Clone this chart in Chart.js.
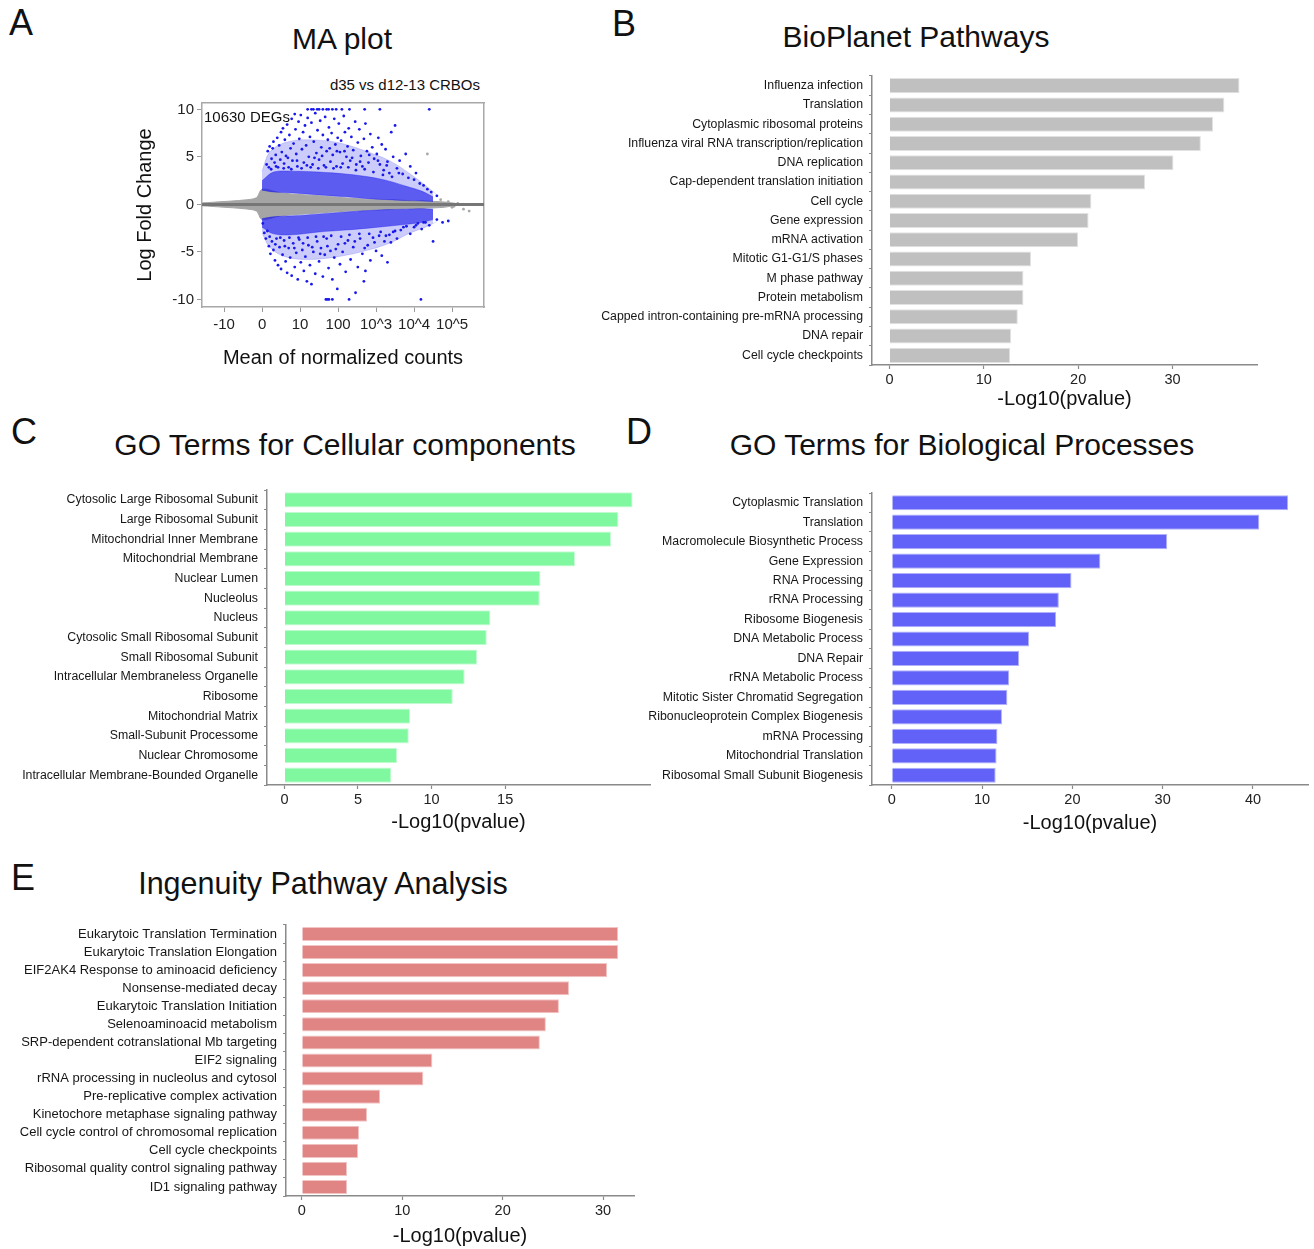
<!DOCTYPE html>
<html><head><meta charset="utf-8">
<script src="https://cdn.jsdelivr.net/npm/chart.js@4.4.1/dist/chart.umd.min.js"></script>
<style>
html,body{margin:0;padding:0;background:#fff;}
#fig{position:relative;width:1314px;height:1249px;overflow:hidden;font-family:"Liberation Sans",Arial,sans-serif;color:#111;}
canvas{position:absolute;}
.t{position:absolute;white-space:nowrap;}
.letter{font-size:36px;line-height:36px;}
.title{font-size:30px;line-height:30px;text-align:center;}
</style></head><body>
<div id="fig">
<canvas id="cA" width="367" height="275" style="left:133px;top:95px"></canvas>
<canvas id="cB" width="724" height="341" style="left:590px;top:70px"></canvas>
<canvas id="cC" width="660" height="354" style="left:0px;top:480px"></canvas>
<canvas id="cD" width="674" height="352" style="left:640px;top:483px"></canvas>
<canvas id="cE" width="660" height="333" style="left:0px;top:915px"></canvas>

<div class="t letter" style="left:9px;top:5px">A</div>
<div class="t letter" style="left:612px;top:6px">B</div>
<div class="t letter" style="left:11px;top:414px">C</div>
<div class="t letter" style="left:626px;top:414px">D</div>
<div class="t letter" style="left:11px;top:860px">E</div>

<div class="t title" style="left:242px;width:200px;top:24px">MA plot</div>
<div class="t title" style="left:716px;width:400px;top:22px">BioPlanet Pathways</div>
<div class="t title" style="left:95px;width:500px;top:430px">GO Terms for Cellular components</div>
<div class="t title" style="left:712px;width:500px;top:430px">GO Terms for Biological Processes</div>
<div class="t title" style="left:123px;width:400px;top:868px;font-size:30.5px">Ingenuity Pathway Analysis</div>

<div class="t" style="right:834px;top:77px;font-size:15px;line-height:15px;">d35 vs d12-13 CRBOs</div>
<div class="t" style="left:204px;top:109px;font-size:15px;line-height:15px;">10630 DEGs</div>
</div>
<script>
const F = '"Liberation Sans", Arial, sans-serif';

// ---------- Panel A : MA plot ----------
const maXTickLabels = ['-10','0','10','100','10^3','10^4','10^5'];
const maYTicks = [-10,-5,0,5,10];
const maGreyBandX     = [-0.58, 0, 0.5, 0.85, 1.0, 1.5, 2.5, 3.5, 4.5, 5.3, 5.8, 6.1];
const maGreyBandUpper = [0.15, 0.3, 0.45, 0.7, 1.6, 1.2, 0.9, 0.6, 0.45, 0.35, 0.25, 0.1];
const maGreyBandLower = [-0.15, -0.3, -0.45, -0.7, -1.6, -1.2, -0.9, -0.65, -0.5, -0.4, -0.3, -0.1];
const maCoreX        = [1.0, 1.3, 1.8, 2.5, 3.2, 3.8, 4.3, 4.8, 5.2, 5.5];
const maUpCoreTop    = [2.5, 3.4, 3.5, 3.4, 3.2, 2.9, 2.5, 1.9, 1.4, 0.8];
const maUpCoreBottom = [1.5, 1.3, 1.2, 1.0, 0.8, 0.6, 0.5, 0.4, 0.35, 0.3];
const maLoCoreTop    = [-1.5, -1.3, -1.2, -1.0, -0.8, -0.65, -0.55, -0.5, -0.45, -0.5];
const maLoCoreBottom = [-2.4, -3.1, -3.2, -2.9, -2.7, -2.5, -2.3, -2.1, -1.9, -1.6];
const maOuterX       = [1.0, 1.2, 1.6, 2.2, 3.0, 3.8, 4.4, 4.9, 5.3, 5.6];
const maUpOuterTop   = [3.5, 5.5, 6.5, 6.8, 6.5, 5.5, 4.5, 3.2, 2.0, 1.0];
const maLoOuterBottom= [-3.0, -4.5, -5.5, -5.8, -5.5, -4.8, -4.0, -3.0, -2.4, -1.8];
const maBluePoints = [
 [2.2,10],[2.3,10],[2.35,10],[2.45,10],[2.5,10],[2.6,10],[2.7,10],[2.75,10],[2.85,10],[2.95,10],[3.1,10],[3.3,10],[3.7,10],[4.1,10],[5.4,10],
 [1.12,4.2],[1.15,5.6],[1.18,3.9],[1.2,6.1],[1.25,4.8],[1.28,5.9],[1.3,6.6],[1.33,4.4],[1.36,5.2],[1.4,7.0],[1.42,3.9],[1.45,6.2],[1.48,4.7],[1.5,7.6],[1.52,5.5],
 [1.55,8.0],[1.58,4.3],[1.6,6.8],[1.63,5.1],[1.66,8.4],[1.7,3.9],[1.72,7.3],[1.75,5.9],[1.78,9.0],[1.8,4.6],[1.83,6.4],[1.86,9.5],[1.88,7.9],[1.9,5.3],[1.93,4.0],[1.96,8.7],[1.98,6.9],
 [2.02,9.4],[2.05,5.8],[2.08,7.6],[2.1,4.4],[2.13,8.3],[2.16,6.2],[2.2,9.1],[2.23,5.0],[2.26,7.1],[2.3,8.6],[2.33,4.2],[2.36,6.6],[2.4,9.6],[2.43,5.4],[2.46,7.8],[2.5,4.7],
 [2.53,8.8],[2.56,6.0],[2.6,7.3],[2.63,4.1],[2.66,9.2],[2.7,5.6],[2.73,6.8],[2.76,8.1],[2.8,4.5],[2.83,7.5],[2.86,5.2],[2.9,9.0],[2.93,6.3],[2.96,4.0],[2.99,7.0],
 [3.02,8.5],[3.05,5.5],[3.08,6.7],[3.12,4.3],[3.15,9.3],[3.18,7.6],[3.22,5.0],[3.25,6.1],[3.28,8.0],[3.32,4.6],[3.35,7.1],[3.4,5.7],[3.45,8.7],[3.48,4.2],
 [3.52,6.5],[3.56,7.9],[3.6,5.1],[3.64,4.0],[3.68,6.9],[3.72,8.5],[3.76,5.6],[3.8,4.4],[3.85,7.4],[3.9,6.0],[3.95,4.8],
 [4.02,5.3],[4.06,7.0],[4.1,4.2],[4.15,6.3],[4.2,3.6],[4.25,5.8],[4.3,4.5],[4.35,3.3],[4.4,7.6],[4.45,5.0],[4.5,8.3],[4.55,3.8],
 [4.62,4.6],[4.7,3.2],[4.78,5.3],[4.85,2.8],[4.9,4.0],[5.0,2.6],[5.05,3.3],[5.15,2.2],[5.25,2.0],[5.35,1.6],[5.45,1.3],[5.6,0.9],
 [1.24,3.7],[1.37,4.0],[1.57,3.8],[1.68,4.9],[1.77,3.7],[1.92,4.6],[2.04,3.8],[2.18,4.1],[2.28,3.9],[2.38,4.9],[2.48,3.8],[2.58,5.1],[2.68,3.9],[2.78,5.9],[2.88,3.8],
 [2.97,5.6],[3.07,3.9],[3.17,5.6],[3.27,3.9],[3.37,4.9],[3.47,3.6],[3.58,4.5],[3.7,3.7],[3.82,5.2],[3.93,3.4],[4.05,4.6],[4.18,3.1],[4.28,4.1],[4.42,2.9],[4.6,3.3],
 [1.02,-2.0],[1.06,-3.0],[1.1,-3.6],[1.14,-2.8],[1.18,-4.4],[1.22,-5.2],[1.26,-3.9],[1.3,-4.8],[1.34,-5.9],[1.38,-3.6],[1.42,-6.4],[1.46,-4.5],[1.5,-6.8],[1.54,-5.3],[1.58,-3.8],
 [1.62,-6.0],[1.66,-7.2],[1.7,-4.6],[1.74,-5.6],[1.78,-7.5],[1.82,-4.1],[1.86,-6.6],[1.9,-5.1],[1.94,-7.9],[1.98,-3.7],[2.02,-6.1],[2.06,-4.8],[2.1,-7.0],[2.14,-5.5],[2.18,-8.1],
 [2.22,-4.3],[2.26,-6.4],[2.3,-8.4],[2.35,-5.0],[2.4,-7.3],[2.45,-3.9],[2.5,-6.0],[2.55,-4.6],[2.6,-7.6],[2.65,-5.3],[2.7,-3.6],[2.75,-6.7],[2.8,-4.9],[2.85,-7.9],[2.9,-5.6],
 [2.98,-8.9],[3.0,-4.2],[3.05,-6.3],[3.12,-5.0],[3.2,-7.1],[3.26,-3.8],[3.33,-5.8],[3.4,-4.5],[3.46,-9.3],[3.52,-6.6],[3.58,-3.6],[3.64,-5.2],[3.68,-8.1],[3.72,-7.0],[3.78,-4.3],
 [3.85,-5.9],[3.92,-3.5],[4.0,-4.9],[4.08,-3.3],[4.15,-5.4],[4.22,-3.9],[4.3,-6.1],[4.35,-3.2],[4.39,-4.0],[4.45,-2.9],[4.55,-3.6],[4.65,-2.7],[4.8,-2.3],[4.9,-3.1],[5.0,-2.4],
 [5.1,-2.0],[5.2,-2.6],[5.3,-1.9],[5.4,-2.2],[5.5,-3.9],[5.6,-1.6],[5.75,-1.9],[5.9,-1.75],
 [1.2,-3.4],[1.35,-4.2],[1.48,-3.5],[1.6,-4.4],[1.72,-3.5],[1.85,-4.6],[1.96,-3.5],[2.08,-4.1],[2.2,-3.5],[2.32,-4.5],[2.42,-3.4],[2.53,-5.2],[2.62,-3.4],[2.72,-4.4],[2.82,-3.3],
 [2.94,-4.7],[3.08,-3.4],[3.18,-4.1],[3.3,-3.2],[3.44,-3.9],[3.56,-3.1],[3.7,-4.6],[3.82,-3.1],[3.96,-4.0],[4.12,-2.9],[4.26,-3.3],[4.5,-2.8],[4.72,-2.4],[5.05,-2.2],[5.25,-1.9],
 [2.68,-10],[2.72,-10],[2.76,-10],[2.85,-10],[3.29,-10],[5.18,-10]
];
const maGreyPoints = [[5.35,5.3],[5.7,0.5],[5.9,0.3],[6.0,-0.3],[6.05,-0.2],[6.15,0.1],[6.3,-0.5],[6.45,-0.7]];
const maXRange = [-0.58, 6.84];
const maYRange = [-10.8, 10.67];

// ---------- Panel B : BioPlanet ----------
const bioCategories = ['Influenza infection','Translation','Cytoplasmic ribosomal proteins','Influenza viral RNA transcription/replication','DNA replication','Cap-dependent translation initiation','Cell cycle','Gene expression','mRNA activation','Mitotic G1-G1/S phases','M phase pathway','Protein metabolism','Capped intron-containing pre-mRNA processing','DNA repair','Cell cycle checkpoints'];
const bioValues = [37.1,35.5,34.3,33.0,30.1,27.1,21.4,21.1,20.0,15.0,14.2,14.2,13.6,12.9,12.8];
const bioTicks = [0,10,20,30];

// ---------- Panel C : GO Cellular components ----------
const ccCategories = ['Cytosolic Large Ribosomal Subunit','Large Ribosomal Subunit','Mitochondrial Inner Membrane','Mitochondrial Membrane','Nuclear Lumen','Nucleolus','Nucleus','Cytosolic Small Ribosomal Subunit','Small Ribosomal Subunit','Intracellular Membraneless Organelle','Ribosome','Mitochondrial Matrix','Small-Subunit Processome','Nuclear Chromosome','Intracellular Membrane-Bounded Organelle'];
const ccValues = [23.66,22.7,22.2,19.75,17.4,17.35,14.0,13.75,13.1,12.25,11.44,8.54,8.45,7.66,7.27];
const ccTicks = [0,5,10,15];

// ---------- Panel D : GO Biological processes ----------
const bpCategories = ['Cytoplasmic Translation','Translation','Macromolecule Biosynthetic Process','Gene Expression','RNA Processing','rRNA Processing','Ribosome Biogenesis','DNA Metabolic Process','DNA Repair','rRNA Metabolic Process','Mitotic Sister Chromatid Segregation','Ribonucleoprotein Complex Biogenesis','mRNA Processing','Mitochondrial Translation','Ribosomal Small Subunit Biogenesis'];
const bpValues = [43.9,40.7,30.5,23.1,19.9,18.5,18.2,15.2,14.1,13.0,12.8,12.2,11.7,11.6,11.5];
const bpTicks = [0,10,20,30,40];

// ---------- Panel E : IPA ----------
const ipaCategories = ['Eukarytoic Translation Termination','Eukarytoic Translation Elongation','EIF2AK4 Response to aminoacid deficiency','Nonsense-mediated decay','Eukarytoic Translation Initiation','Selenoaminoacid metabolism','SRP-dependent cotranslational Mb targeting','EIF2 signaling','rRNA processing in nucleolus and cytosol','Pre-replicative complex activation','Kinetochore metaphase signaling pathway','Cell cycle control of chromosomal replication','Cell cycle checkpoints','Ribosomal quality control signaling pathway','ID1 signaling pathway'];
const ipaValues = [31.5,31.5,30.4,26.6,25.6,24.3,23.7,13.0,12.1,7.8,6.5,5.7,5.6,4.5,4.5];
const ipaTicks = [0,10,20,30];

const AX = '#8a8a8a';
const noPadV = s => { s.paddingTop = 0; s.paddingBottom = 0; };
const noPadH = s => { s.paddingLeft = 0; s.paddingRight = 0; };

function barPanel(id, cats, vals, ticks, color, border, geo, labelSize) {
  const max = Math.max(...vals);
  const ex = 0.05 * max;
  new Chart(document.getElementById(id), {
    type: 'bar',
    data: { labels: cats, datasets: [{ data: vals, backgroundColor: color, borderColor: border, borderWidth: 1,
      barPercentage: 0.78, categoryPercentage: 1 }] },
    options: {
      indexAxis: 'y', responsive: false, animation: false, devicePixelRatio: 1,
      layout: { padding: { top: geo.pt, right: geo.pr, left: 0, bottom: 0 } },
      plugins: { legend: { display: false }, tooltip: { enabled: false } },
      scales: {
        x: { type: 'linear', min: -ex, max: max + ex,
          afterBuildTicks: s => { s.ticks = ticks.map(v => ({ value: v })); },
          afterFit: s => { s.height = geo.xh; noPadH(s); },
          grid: { display: true, drawOnChartArea: false, drawTicks: true, tickLength: 4, tickColor: AX, tickWidth: 1.2 },
          border: { display: true, color: AX, width: 1.5 },
          ticks: { font: { family: F, size: 14.5 }, color: '#222', padding: 2, maxRotation: 0 },
          title: { display: true, text: '-Log10(pvalue)', font: { family: F, size: 20 }, color: '#111', padding: 0 } },
        y: { afterFit: s => { s.width = geo.yw; noPadV(s); },
          grid: { display: true, drawOnChartArea: false, drawTicks: true, tickLength: 3, tickColor: AX, tickWidth: 1.2 },
          border: { display: true, color: AX, width: 1.5 },
          ticks: { font: { family: F, size: labelSize }, color: '#161616', padding: 6, autoSkip: false } }
      }
    }
  });
}

barPanel('cB', bioCategories, bioValues, bioTicks, '#c0c0c0', '#e2e2e2', { pt: 6, pr: 57, xh: 46, yw: 282 }, 12.3);
barPanel('cC', ccCategories, ccValues, ccTicks, '#80f8a0', '#c8fbd6', { pt: 10, pr: 10, xh: 49, yw: 267 }, 12.3);
barPanel('cD', bpCategories, bpValues, bpTicks, '#6262f8', '#b0b0fb', { pt: 10, pr: 6, xh: 50, yw: 232 }, 12.3);
barPanel('cE', ipaCategories, ipaValues, ipaTicks, '#e08484', '#f2c4c4', { pt: 10, pr: 26, xh: 52, yw: 286 }, 13);

// MA plot
const xy = (xs, ys) => xs.map((x, i) => ({ x: x, y: ys[i] }));
const pts = a => a.map(p => ({ x: p[0], y: p[1] }));
const BLUE = 'rgb(25,25,235)';
const lineDS = (d, o) => Object.assign({ data: d, showLine: true, pointRadius: 0, borderWidth: 1, borderColor: 'rgba(25,25,235,0.35)', tension: 0.35 }, o);
new Chart(document.getElementById('cA'), {
  type: 'scatter',
  data: { datasets: [
    { data: [{ x: maXRange[0], y: 0 }, { x: maXRange[1], y: 0 }], showLine: true, borderColor: '#767676', borderWidth: 3, pointRadius: 0, order: 0 },
    { data: pts(maBluePoints), backgroundColor: BLUE, borderWidth: 0, pointRadius: 1.4, order: 1 },
    { data: pts(maGreyPoints), backgroundColor: '#a8a8a8', borderWidth: 0, pointRadius: 1.4, order: 2 },
    lineDS(xy(maCoreX, maUpCoreTop), { fill: '+1', backgroundColor: 'rgba(25,25,235,0.62)', order: 3 }),
    lineDS(xy(maCoreX, maUpCoreBottom), { order: 3 }),
    lineDS(xy(maCoreX, maLoCoreTop), { fill: '+1', backgroundColor: 'rgba(25,25,235,0.62)', order: 3 }),
    lineDS(xy(maCoreX, maLoCoreBottom), { order: 3 }),
    lineDS(xy(maOuterX, maUpOuterTop), { fill: '+1', backgroundColor: 'rgba(25,25,235,0.22)', borderColor: 'rgba(25,25,235,0.15)', order: 4 }),
    lineDS(xy(maCoreX, maUpCoreBottom), { borderWidth: 0, order: 4 }),
    lineDS(xy(maCoreX, maLoCoreTop), { fill: '+1', backgroundColor: 'rgba(25,25,235,0.22)', borderWidth: 0, order: 4 }),
    lineDS(xy(maOuterX, maLoOuterBottom), { borderColor: 'rgba(25,25,235,0.15)', order: 4 }),
    lineDS(xy(maGreyBandX, maGreyBandUpper), { borderColor: '#a5a5a5', tension: 0.3, fill: '+1', backgroundColor: '#a5a5a5', order: 5 }),
    lineDS(xy(maGreyBandX, maGreyBandLower), { borderColor: '#a5a5a5', tension: 0.3, order: 5 })
  ] },
  options: {
    responsive: false, animation: false, devicePixelRatio: 1,
    layout: { padding: { top: 8, right: 16, left: 0, bottom: 0 } },
    plugins: { legend: { display: false }, tooltip: { enabled: false } },
    scales: {
      x: { type: 'linear', position: 'bottom', min: maXRange[0], max: maXRange[1],
        afterBuildTicks: s => { s.ticks = maXTickLabels.map((_, i) => ({ value: i })); },
        afterFit: s => { s.height = 63; noPadH(s); },
        ticks: { callback: v => maXTickLabels[v], font: { family: F, size: 15 }, color: '#222', padding: 4, maxRotation: 0 },
        grid: { display: true, drawOnChartArea: false, drawTicks: true, tickLength: 5, tickColor: '#9a9a9a' },
        border: { display: true, color: '#a8a8a8', width: 1.5 },
        title: { display: true, text: 'Mean of normalized counts', font: { family: F, size: 20 }, color: '#111', padding: 0 } },
      y: { type: 'linear', position: 'left', min: maYRange[0], max: maYRange[1],
        afterBuildTicks: s => { s.ticks = maYTicks.map(v => ({ value: v })); },
        afterFit: s => { s.width = 69; noPadV(s); },
        ticks: { font: { family: F, size: 15 }, color: '#222', padding: 3 },
        grid: { display: true, drawOnChartArea: false, drawTicks: true, tickLength: 5, tickColor: '#9a9a9a' },
        border: { display: true, color: '#a8a8a8', width: 1.5 },
        title: { display: true, text: 'Log Fold Change', font: { family: F, size: 20 }, color: '#111', padding: 0 } },
      x2: { type: 'linear', position: 'top', min: maXRange[0], max: maXRange[1], display: true,
        afterFit: s => { s.height = 0; noPadH(s); },
        ticks: { display: false }, grid: { display: false, drawTicks: false },
        border: { display: true, color: '#a8a8a8', width: 1.5 } },
      y2: { type: 'linear', position: 'right', min: maYRange[0], max: maYRange[1], display: true,
        afterFit: s => { s.width = 0; noPadV(s); },
        ticks: { display: false }, grid: { display: false, drawTicks: false },
        border: { display: true, color: '#a8a8a8', width: 1.5 } }
    }
  }
});
</script>
</body></html>
